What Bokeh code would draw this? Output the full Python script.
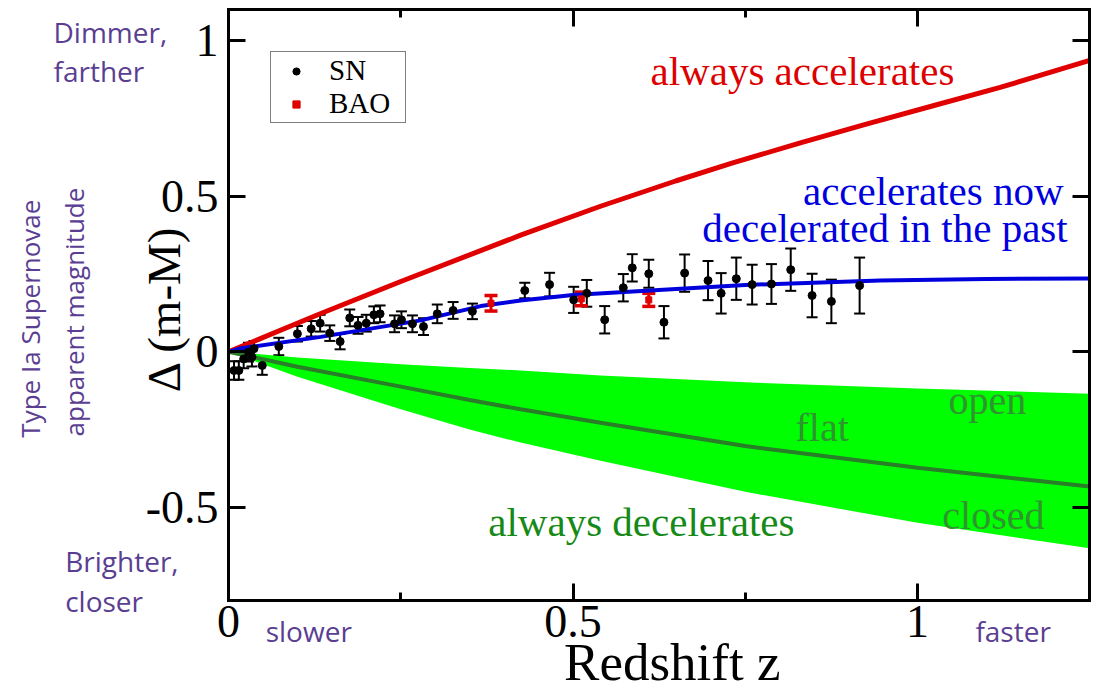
import math
from bokeh.plotting import figure
from bokeh.models import (ColumnDataSource, Whisker, TeeHead, Label, Legend, LegendItem,
                          LinearAxis, FixedTicker, Range1d)
from bokeh.embed import file_html
from bokeh.resources import INLINE

# ---------------- data ----------------
# Type Ia supernovae (binned): redshift, Delta(m-M), error
sn_z = [0.008, 0.015, 0.022, 0.029, 0.034, 0.037, 0.049, 0.073, 0.100, 0.120,
        0.133, 0.147, 0.162, 0.176, 0.188, 0.200, 0.211, 0.220, 0.241, 0.251,
        0.267, 0.283, 0.303, 0.326, 0.354, 0.430, 0.466, 0.501, 0.520, 0.546,
        0.573, 0.586, 0.610, 0.632, 0.662, 0.696, 0.715, 0.737, 0.760, 0.788,
        0.816, 0.847, 0.875, 0.916]
sn_dm = [-0.060, -0.060, -0.023, -0.001, -0.017, 0.010, -0.044, 0.017, 0.058, 0.074,
         0.092, 0.060, 0.033, 0.109, 0.085, 0.092, 0.119, 0.122, 0.090, 0.103,
         0.090, 0.081, 0.122, 0.133, 0.130, 0.197, 0.216, 0.167, 0.188, 0.103,
         0.206, 0.270, 0.251, 0.095, 0.253, 0.229, 0.188, 0.235, 0.216, 0.218,
         0.264, 0.181, 0.162, 0.213]
sn_err = [0.030, 0.030, 0.030, 0.030, 0.030, 0.025, 0.030, 0.028, 0.025, 0.025,
          0.027, 0.025, 0.025, 0.027, 0.027, 0.027, 0.027, 0.027, 0.027, 0.027,
          0.027, 0.027, 0.030, 0.027, 0.025, 0.025, 0.038, 0.042, 0.043, 0.044,
          0.044, 0.044, 0.045, 0.052, 0.060, 0.063, 0.065, 0.068, 0.064, 0.064,
          0.068, 0.070, 0.070, 0.090]

# BAO points
bao_z = [0.381, 0.512, 0.610]
bao_dm = [0.156, 0.170, 0.167]
bao_err = [0.025, 0.022, 0.021]

# model curves
acc_z = [0.0, 0.134, 0.25, 0.424, 0.54, 0.65, 0.733, 0.83, 0.927, 1.024, 1.12, 1.25]
acc_dm = [0.0, 0.123, 0.226, 0.375, 0.468, 0.550, 0.608, 0.672, 0.733, 0.792, 0.850, 0.937]

lcdm_z = [0.0, 0.017, 0.134, 0.279, 0.366, 0.424, 0.5, 0.612, 0.75, 0.946, 1.1, 1.25]
lcdm_dm = [0.0, 0.011, 0.048, 0.101, 0.147, 0.165, 0.183, 0.197, 0.215, 0.229, 0.234, 0.236]

dec_z = [0.0, 0.1, 0.25, 0.35, 0.424, 0.54, 0.75, 1.0, 1.25]
dec_open = [0.0, -0.018, -0.040, -0.052, -0.060, -0.076, -0.098, -0.118, -0.135]
dec_flat = [0.0, -0.048, -0.112, -0.155, -0.185, -0.228, -0.303, -0.373, -0.433]
dec_closed = [0.0, -0.080, -0.185, -0.250, -0.292, -0.350, -0.450, -0.550, -0.632]

x_ticks = [0, 0.5, 1]
x_minor = [0.25, 0.75]
x_tick_labels = {0: "0", 0.5: "0.5", 1: "1"}
y_ticks = [-0.5, 0, 0.5, 1]
y_tick_labels = {-0.5: "-0.5", 0: "0", 0.5: "0.5", 1: "1"}

X_MIN, X_MAX = 0.0, 1.25
Y_MIN, Y_MAX = -0.8, 1.1

# ---------------- figure ----------------
SERIF = "Liberation Serif"
SANS = "Open Sans"
PURPLE = "#5a3e92"

W, H = 1099, 691
FL, FR, FT, FB = 228.0, 1089.25, 9.2, 600.1   # pixel box of the plotting area
sx = (FR - FL) / (X_MAX - X_MIN)
sy = (FB - FT) / (Y_MAX - Y_MIN)
xr = Range1d(X_MIN - FL / sx, X_MAX + (W - FR) / sx)
yr = Range1d(Y_MIN - (H - FB) / sy, Y_MAX + FT / sy)

p = figure(width=W, height=H, x_range=xr, y_range=yr,
           output_backend="svg", toolbar_location=None,
           min_border=0, background_fill_color="white", border_fill_color="white")
p.xgrid.visible = False
p.ygrid.visible = False
p.outline_line_color = None

def style_axis(ax, ticks, minor, labels, show_labels, standoff, loc, bounds):
    ax.fixed_location = loc
    ax.bounds = bounds
    ax.ticker = FixedTicker(ticks=ticks, minor_ticks=minor)
    ax.major_tick_in = 17
    ax.major_tick_out = 0
    ax.minor_tick_in = 8
    ax.minor_tick_out = 0
    ax.major_tick_line_width = 3
    ax.minor_tick_line_width = 3
    ax.axis_line_width = 3
    ax.axis_line_cap = "square"
    ax.major_tick_line_color = "black"
    ax.minor_tick_line_color = "black"
    ax.axis_line_color = "black"
    ax.major_label_overrides = labels
    ax.major_label_standoff = standoff
    ax.major_label_text_font = SERIF
    ax.major_label_text_font_size = "46px"
    if show_labels:
        ax.major_label_text_color = "black"
    else:
        ax.major_label_text_color = None
        ax.major_label_text_alpha = 0

style_axis(p.xaxis[0], x_ticks, x_minor, x_tick_labels, True, 5, Y_MIN, (X_MIN, X_MAX))
style_axis(p.yaxis[0], y_ticks, [], y_tick_labels, True, 10, X_MIN, (Y_MIN, Y_MAX))

top_ax = LinearAxis()
p.add_layout(top_ax, "above")
style_axis(top_ax, x_ticks, x_minor, x_tick_labels, False, 0, Y_MAX, (X_MIN, X_MAX))
right_ax = LinearAxis()
p.add_layout(right_ax, "right")
style_axis(right_ax, y_ticks, [], y_tick_labels, False, 0, X_MAX, (Y_MIN, Y_MAX))

# decelerating band
band_src = ColumnDataSource(dict(z=dec_z, top=dec_open, bot=dec_closed, flat=dec_flat))
p.varea(x="z", y1="bot", y2="top", source=band_src, fill_color="#00ff00")
p.line(x="z", y="flat", source=band_src, line_color="#287f28", line_width=4)

# accelerating and LCDM curves
p.line(acc_z, acc_dm, line_color="#e00000", line_width=5)
p.line(lcdm_z, lcdm_dm, line_color="#0000dd", line_width=4)

# SN points with errors
sn_src = ColumnDataSource(dict(z=sn_z, dm=sn_dm,
                               lo=[d - e for d, e in zip(sn_dm, sn_err)],
                               hi=[d + e for d, e in zip(sn_dm, sn_err)]))
p.add_layout(Whisker(source=sn_src, base="z", lower="lo", upper="hi", dimension="height",
                     line_color="black", line_width=2,
                     upper_head=TeeHead(size=11, line_color="black", line_width=2),
                     lower_head=TeeHead(size=11, line_color="black", line_width=2)))
sn_r = p.scatter(x="z", y="dm", source=sn_src, marker="circle", size=8,
                 fill_color="black", line_color="black")

bao_src = ColumnDataSource(dict(z=bao_z, dm=bao_dm,
                                lo=[d - e for d, e in zip(bao_dm, bao_err)],
                                hi=[d + e for d, e in zip(bao_dm, bao_err)]))
p.add_layout(Whisker(source=bao_src, base="z", lower="lo", upper="hi", dimension="height",
                     line_color="#e00000", line_width=3,
                     upper_head=TeeHead(size=13, line_color="#e00000", line_width=3.5),
                     lower_head=TeeHead(size=13, line_color="#e00000", line_width=3.5)))
bao_r = p.scatter(x="z", y="dm", source=bao_src, marker="square", size=6,
                  fill_color="#e00000", line_color="#e00000")

# legend
legend = Legend(items=[LegendItem(label="SN", renderers=[sn_r]),
                       LegendItem(label="BAO", renderers=[bao_r])],
                location=(270, H - 123), orientation="vertical",
                label_text_font=SERIF, label_text_font_size="29px", label_text_color="black",
                glyph_width=46, glyph_height=18, label_standoff=10, label_width=74,
                padding=2, spacing=0, margin=0,
                border_line_color="black", border_line_width=1.5,
                background_fill_color="white", background_fill_alpha=1.0)
p.add_layout(legend)

# annotations
def lab(x, y, text, color, size, font=SERIF, align="left", angle=0.0):
    p.add_layout(Label(x=x, y=y, text=text, text_color=color, text_font=font,
                       text_font_size=size, text_align=align, text_baseline="alphabetic",
                       angle=angle))

lab(0.6125, 0.904, "always accelerates", "#dd0000", "41px")
lab(1.212, 0.518, "accelerates now", "#0000dd", "41px", align="right")
lab(1.218, 0.399, "decelerated in the past", "#0000dd", "41px", align="right")
lab(0.377, -0.546, "always decelerates", "#168a16", "41px")
lab(0.823, -0.245, "flat", "#2f962f", "40px")
lab(1.045, -0.155, "open", "#2f962f", "40px")
lab(1.036, -0.525, "closed", "#2f962f", "40px")

# axis titles
lab(-0.0938, 0.139, "\u0394 (m-M)", "black", "47px", align="center", angle=math.pi / 2)
lab(0.644, -0.996, "Redshift z", "black", "53px", align="center")

# purple side notes
lab(-0.254, 1.027, "Dimmer,", PURPLE, "28px", font=SANS)
lab(-0.254, 0.902, "farther", PURPLE, "28px", font=SANS)
lab(-0.237, -0.673, "Brighter,", PURPLE, "28px", font=SANS)
lab(-0.237, -0.801, "closer", PURPLE, "28px", font=SANS)
lab(0.054, -0.899, "slower", PURPLE, "28px", font=SANS)
lab(1.084, -0.899, "faster", PURPLE, "28px", font=SANS)
lab(-0.2881, -0.276, "Type Ia Supernovae", PURPLE, "26px", font=SANS, angle=math.pi / 2)
lab(-0.2242, -0.272, "apparent magnitude", PURPLE, "26px", font=SANS, angle=math.pi / 2)

open("out.html", "w").write(file_html(p, INLINE))
